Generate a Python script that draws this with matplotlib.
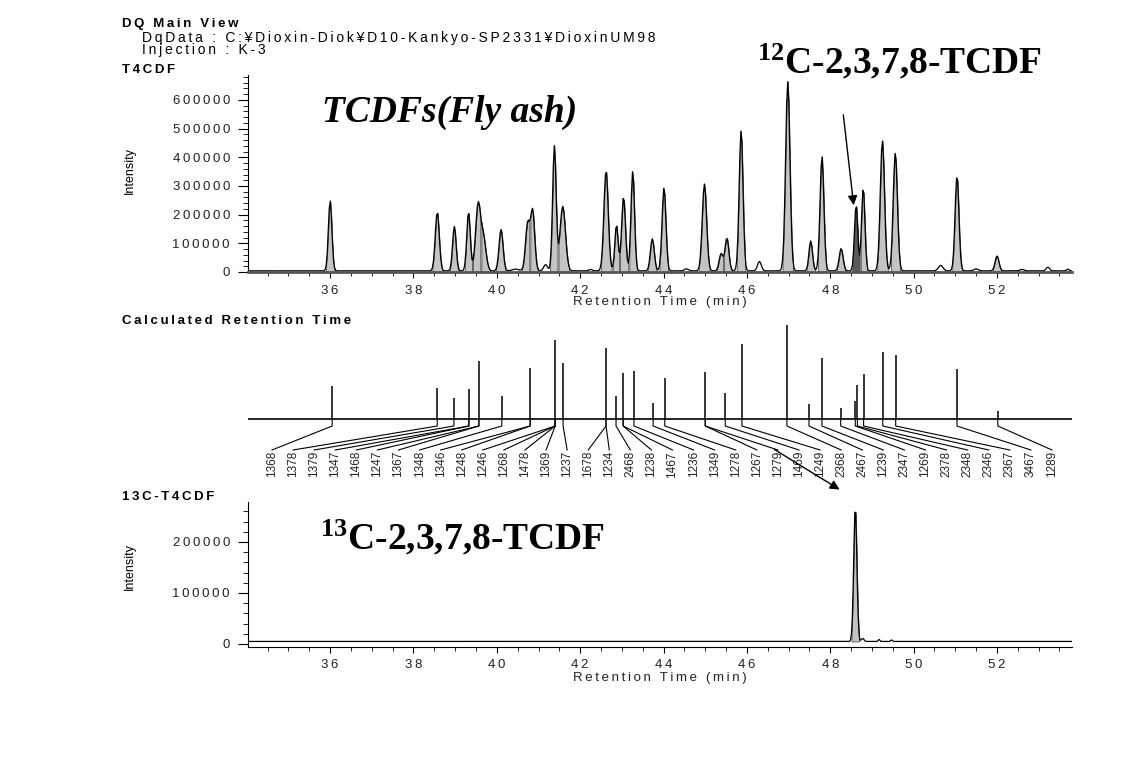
import numpy as np
import matplotlib
matplotlib.use("Agg")
import matplotlib.pyplot as plt
from matplotlib.ticker import MultipleLocator, FuncFormatter

plt.rcParams['font.family'] = ['Liberation Sans', 'DejaVu Sans']
plt.rcParams['mathtext.default'] = 'regular'

# ---- T4CDF chromatogram peaks (retention time min, height, width sigma)
peak_rt = [36.00, 38.57, 38.98, 39.32, 39.55, 39.68, 40.10, 40.74, 40.86, 41.38,
           41.58, 42.62, 42.87, 43.04, 43.26, 43.73, 44.01, 44.98, 45.38, 45.52,
           45.86, 46.98, 47.53, 47.80, 48.26, 48.62, 48.79, 49.25, 49.56, 51.04, 52.00]
peak_h = [245000, 205000, 155000, 205000, 230000, 110000, 145000, 165000, 205000, 435000,
          225000, 350000, 160000, 258000, 348000, 112000, 290000, 303000, 60000, 115000,
          490000, 660000, 104000, 400000, 78000, 230000, 290000, 455000, 412000, 332000, 52000]
peak_w = [0.042, 0.048, 0.042, 0.042, 0.06, 0.06, 0.048, 0.052, 0.048, 0.042,
          0.065, 0.052, 0.04, 0.046, 0.042, 0.046, 0.046, 0.052, 0.046, 0.046,
          0.046, 0.052, 0.042, 0.046, 0.046, 0.04, 0.04, 0.05, 0.05, 0.046, 0.046]
dark_rt = 48.62  # 12C-2,3,7,8-TCDF

# small unintegrated bumps
bump_rt = [40.45, 41.17, 42.25, 44.55, 46.30, 50.65, 51.50, 52.60, 53.22, 53.70]
bump_h = [6000, 22000, 5000, 7000, 33000, 19000, 7000, 5000, 13000, 6000]
bump_w = [0.08, 0.045, 0.04, 0.05, 0.045, 0.055, 0.05, 0.05, 0.04, 0.03]
base_top = 4000

# ---- Calculated retention time sticks
stick_rt = [36.05, 38.57, 38.97, 39.33, 39.57, 40.12, 40.80, 41.40, 41.59, 42.62,
            42.86, 43.03, 43.29, 43.75, 44.03, 45.00, 45.48, 45.88, 46.96, 47.49,
            47.80, 48.25, 48.60, 48.65, 48.80, 49.26, 49.57, 51.04, 52.02]
stick_h = [33, 31, 21, 30, 58, 23, 51, 79, 56, 71,
           23, 46, 48, 16, 41, 47, 26, 75, 94, 15,
           61, 11, 18, 34, 45, 67, 64, 50, 8]
isomers = ['1368', '1378', '1379', '1347', '1468', '1247', '1367', '1348', '1346', '1248',
           '1246', '1268', '1478', '1369', '1237', '1678', '1234', '2468', '1238', '1467',
           '1236', '1349', '1278', '1267', '1279', '1469', '1249', '2368', '2467', '1239',
           '2347', '1269', '2378', '2348', '2346', '2367', '3467', '1289']
isomer_stick = [0, 1, 2, 3, 3, 4, 4, 5, 6, 6,
                7, 7, 7, 7, 8, 9, 9, 10, 11, 11,
                12, 13, 14, 15, 15, 16, 17, 18, 19, 20,
                21, 22, 23, 24, 25, 26, 27, 28]

# ---- 13C-T4CDF
c13_rt = [48.60, 48.78, 49.17, 49.47]
c13_h = [262000, 6000, 4000, 3000]
c13_w = [0.038, 0.03, 0.02, 0.02]
base_bot = 5000

XMIN, XMAX = 34.03, 53.8
W, H = 1137, 760


def fx(px):
    return px / W


def fy(py):
    return 1 - py / H


def sp(s):
    return '\u2009'.join(s)


def trace(t, rts, hs, ws):
    y = np.zeros_like(t)
    for c, h, w in zip(rts, hs, ws):
        y += h * np.exp(-0.5 * ((t - c) / w) ** 2)
    return y


fmt = FuncFormatter(lambda v, p: sp('%d' % v))

fig = plt.figure(figsize=(W / 100, H / 100), dpi=100)
ax1 = fig.add_axes([fx(248), fy(272), 824 / W, 197 / H])
ax2 = fig.add_axes([fx(248), fy(485), 824 / W, 161 / H])
ax3 = fig.add_axes([fx(248), fy(647), 824 / W, 145 / H])


def style_axis(ax):
    for s in ['top', 'right']:
        ax.spines[s].set_visible(False)
    ax.set_xlim(XMIN, XMAX)
    ax.xaxis.set_major_locator(MultipleLocator(2))
    ax.xaxis.set_minor_locator(MultipleLocator(0.5))
    ax.xaxis.set_major_formatter(fmt)
    ax.yaxis.set_major_locator(MultipleLocator(100000))
    ax.yaxis.set_minor_locator(MultipleLocator(20000))
    ax.yaxis.set_major_formatter(fmt)
    ax.tick_params(axis='x', which='major', length=4, pad=5, labelsize=9.5, labelcolor='#222')
    ax.tick_params(axis='x', which='minor', length=3)
    ax.tick_params(axis='y', which='major', length=7, pad=6, labelsize=9.5, labelcolor='#222')
    ax.tick_params(axis='y', which='minor', length=3.5)
    ax.set_xlabel(sp('Retention Time (min)'), fontsize=9.5, labelpad=0, color='#222')


# top chromatogram
t = np.arange(XMIN, XMAX, 0.025)
y_top = base_top + trace(t, peak_rt, peak_h, peak_w) + trace(t, bump_rt, bump_h, bump_w)
n = len(peak_rt)
for i in range(n):
    c, w = peak_rt[i], peak_w[i]
    lo, hi = c - 2.6 * w, c + 2.6 * w
    if i > 0:
        pc, pw = peak_rt[i - 1], peak_w[i - 1]
        lo = max(lo, pc + (c - pc) * pw / (pw + w))
    if i < n - 1:
        nc, nw = peak_rt[i + 1], peak_w[i + 1]
        hi = min(hi, c + (nc - c) * w / (w + nw))
    m = (t >= lo) & (t <= hi)
    col = '#5a5a5a' if c == dark_rt else '#c4c4c4'
    ax1.fill_between(t[m], 0, y_top[m], facecolor=col, edgecolor='#333', lw=0.5)
ax1.plot(t, y_top, color='k', lw=0.9)
style_axis(ax1)
ax1.set_ylim(0, 687000)
ax1.spines['bottom'].set_linewidth(2)
ax1.spines['bottom'].set_color('#555')

# stick plot
ax2.set_xlim(XMIN, XMAX)
ax2.set_ylim(-66, 95)
ax2.axis('off')
ax2.axhline(0, color='k', lw=1.2)
ax2.vlines(stick_rt, 0, stick_h, color='k', lw=1.1)
lab_px = np.linspace(272, 1052, len(isomers))
lab_x = XMIN + (lab_px - 248) / 824 * (XMAX - XMIN)
for lab, lx, si in zip(isomers, lab_x, isomer_stick):
    rt = stick_rt[si]
    ax2.plot([rt, rt, lx], [0, -7, -31], color='k', lw=0.8, clip_on=False)
    ax2.text(lx, -32, lab, rotation=90, ha='center', va='top', fontsize=8.5, color='#222')

# 13C chromatogram
t3 = np.arange(XMIN, XMAX, 0.02)
y_bot = base_bot + trace(t3, c13_rt, c13_h, c13_w)
m3 = (t3 >= c13_rt[0] - 2.6 * c13_w[0]) & (t3 <= c13_rt[0] + 2.6 * c13_w[0])
ax3.fill_between(t3[m3], base_bot, y_bot[m3], facecolor='#c4c4c4', edgecolor='#333', lw=0.5)
ax3.plot(t3, y_bot, color='k', lw=0.9)
style_axis(ax3)
ax3.set_ylim(-5900, 278400)

# header texts
fig.text(fx(122), fy(24), sp('DQ Main View'), fontsize=9.5, weight='bold', va='center')
fig.text(fx(142), fy(38), sp('DqData : C:¥Dioxin-Diok¥D10-Kankyo-SP2331¥DioxinUM98'),
         fontsize=10, va='center')
fig.text(fx(142), fy(50), sp('Injection : K-3'), fontsize=10, va='center')
fig.text(fx(122), fy(70), sp('T4CDF'), fontsize=9.5, weight='bold', va='center')
fig.text(fx(122), fy(321), sp('Calculated Retention Time'), fontsize=9.5, weight='bold', va='center')
fig.text(fx(122), fy(497), sp('13C-T4CDF'), fontsize=9.5, weight='bold', va='center')
fig.text(fx(130), fy(170), 'Intensity', rotation=90, fontsize=9, ha='center', va='center')
fig.text(fx(130), fy(567), 'Intensity', rotation=90, fontsize=9, ha='center', va='center')

# annotations
serif = dict(family='Liberation Serif', weight='bold', fontsize=27, va='baseline')
fig.text(fx(322), fy(122), 'TCDFs(Fly ash)', style='italic', **serif)
fig.text(fx(757), fy(73), r'$^{12}$C-2,3,7,8-TCDF', **serif)
fig.text(fx(320), fy(549), r'$^{13}$C-2,3,7,8-TCDF', **serif)

arrow = dict(arrowstyle='-|>', color='k', lw=1.0, mutation_scale=14)
ax1.annotate('', xy=(fx(854), fy(208)), xytext=(fx(843), fy(112)),
             xycoords='figure fraction', textcoords='figure fraction',
             arrowprops=arrow, annotation_clip=False)
ax2.annotate('', xy=(fx(842), fy(491)), xytext=(fx(772), fy(448)),
             xycoords='figure fraction', textcoords='figure fraction',
             arrowprops=arrow, annotation_clip=False)

fig.savefig('out.png', dpi=100)
